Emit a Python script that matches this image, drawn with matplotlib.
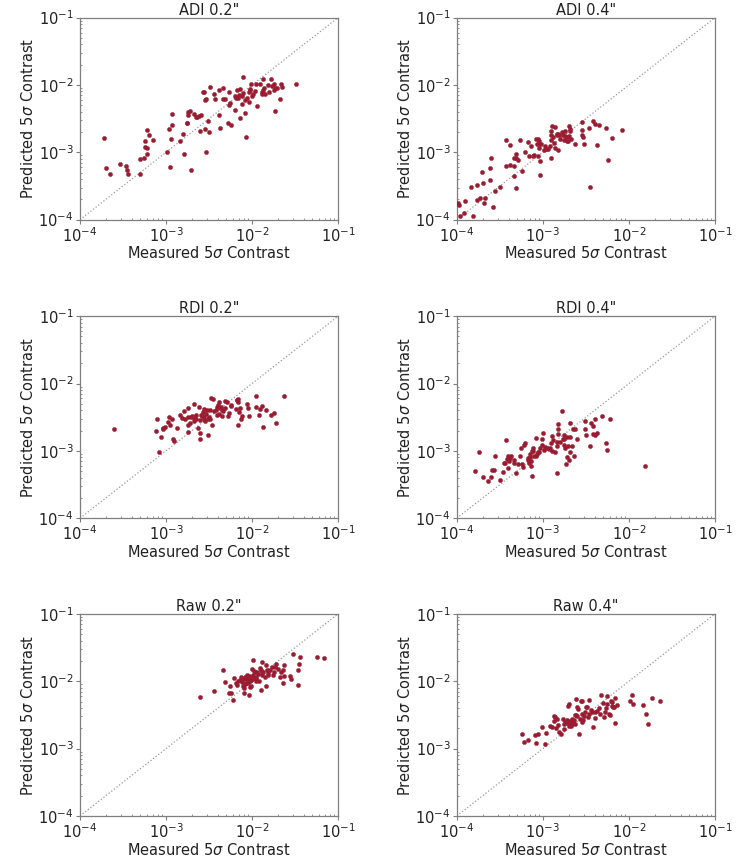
import matplotlib

matplotlib.use("Agg")
import matplotlib.pyplot as plt
import numpy as np

# log10 of measured / predicted 5-sigma contrast
adi02_meas = [-3.72, -3.70, -3.65, -3.53, -3.46, -3.45, -3.44, -3.30, -3.30, -3.26, -3.24, -3.22, -3.24, -3.22,
              -3.22, -3.20, -3.15, -2.99, -2.97, -2.95, -2.94, -2.93, -2.93, -2.84, -2.80, -2.79, -2.76, -2.76,
              -2.75, -2.74, -2.72, -2.71, -2.68, -2.65, -2.64, -2.62, -2.60, -2.59, -2.57, -2.56, -2.55, -2.55,
              -2.54, -2.54, -2.51, -2.50, -2.49, -2.44, -2.43, -2.39, -2.38, -2.37, -2.34, -2.34, -2.32, -2.28,
              -2.27, -2.27, -2.26, -2.24, -2.20, -2.20, -2.19, -2.17, -2.16, -2.15, -2.14, -2.14, -2.12, -2.12,
              -2.11, -2.10, -2.08, -2.08, -2.07, -2.06, -2.04, -2.04, -2.03, -2.02, -2.01, -2.00, -1.99, -1.97,
              -1.96, -1.94, -1.91, -1.89, -1.88, -1.87, -1.87, -1.86, -1.85, -1.81, -1.80, -1.78, -1.77, -1.75,
              -1.74, -1.73, -1.73, -1.71, -1.68, -1.66, -1.65, -1.49]
adi02_pred = [-2.79, -3.24, -3.32, -3.18, -3.20, -3.26, -3.32, -3.32, -3.10, -3.09, -2.92, -2.67, -2.83, -2.93,
              -3.03, -2.75, -2.82, -2.99, -2.66, -3.22, -2.80, -2.60, -2.43, -2.83, -2.73, -3.02, -2.57, -2.56,
              -2.40, -2.44, -2.38, -3.26, -2.43, -2.48, -2.47, -2.46, -2.68, -2.44, -2.10, -2.11, -2.65, -2.22,
              -2.21, -2.99, -2.54, -2.70, -2.03, -2.14, -2.21, -2.07, -2.45, -2.64, -2.05, -2.21, -2.21, -2.56,
              -2.30, -2.10, -2.27, -2.59, -2.37, -2.17, -2.19, -2.08, -2.19, -2.15, -2.06, -2.49, -2.28, -2.16,
              -2.12, -1.88, -2.22, -2.41, -2.78, -2.19, -2.25, -2.11, -2.07, -2.06, -1.98, -2.17, -2.14, -2.09,
              -1.99, -2.31, -1.98, -2.14, -2.11, -2.08, -1.91, -2.04, -2.13, -2.00, -2.10, -1.91, -2.02, -1.98,
              -2.08, -2.39, -2.05, -2.05, -2.21, -1.98, -2.03, -1.98]

adi04_meas = [-3.99, -3.98, -3.96, -3.92, -3.90, -3.81, -3.84, -3.76, -3.76, -3.73, -3.71, -3.70, -3.68, -3.67,
              -3.62, -3.62, -3.60, -3.58, -3.56, -3.50, -3.43, -3.43, -3.38, -3.38, -3.34, -3.34, -3.33, -3.31,
              -3.31, -3.31, -3.29, -3.26, -3.24, -3.21, -3.17, -3.16, -3.14, -3.12, -3.10, -3.08, -3.07, -3.06,
              -3.06, -3.05, -3.05, -3.04, -3.03, -3.03, -3.02, -2.99, -2.97, -2.96, -2.94, -2.92, -2.91, -2.91,
              -2.90, -2.90, -2.89, -2.88, -2.87, -2.86, -2.86, -2.84, -2.84, -2.82, -2.82, -2.81, -2.80, -2.78,
              -2.77, -2.76, -2.74, -2.74, -2.72, -2.72, -2.71, -2.70, -2.70, -2.69, -2.68, -2.67, -2.63, -2.55,
              -2.55, -2.55, -2.53, -2.52, -2.45, -2.46, -2.42, -2.39, -2.37, -2.35, -2.27, -2.24, -2.20, -2.08]
adi04_pred = [-3.75, -3.78, -3.95, -3.90, -3.72, -3.94, -3.52, -3.48, -3.71, -3.68, -3.29, -3.46, -3.76, -3.68,
              -3.24, -3.41, -3.08, -3.81, -3.58, -3.51, -2.82, -3.21, -2.89, -3.19, -3.08, -3.35, -3.21, -3.03,
              -3.09, -3.53, -3.11, -2.82, -3.28, -2.99, -2.85, -3.06, -2.91, -3.06, -3.04, -2.80, -2.87, -3.06,
              -2.80, -2.94, -2.83, -2.87, -3.13, -3.33, -2.88, -2.97, -2.91, -2.95, -2.95, -2.91, -3.08, -2.69,
              -2.82, -2.75, -2.61, -2.78, -2.86, -2.94, -2.62, -2.74, -2.73, -2.73, -2.96, -2.74, -2.80, -2.70,
              -2.75, -2.82, -2.76, -2.69, -2.83, -2.78, -2.83, -2.61, -2.76, -2.69, -2.66, -2.80, -2.88, -2.55,
              -2.67, -2.74, -2.77, -2.88, -3.52, -2.64, -2.54, -2.58, -2.89, -2.59, -2.64, -3.12, -2.79, -2.67]

rdi02_meas = [-3.61, -3.11, -3.12, -3.08, -3.06, -3.04, -3.03, -3.01, -2.98, -2.96, -2.95, -2.93, -2.92, -2.91,
              -2.87, -2.84, -2.82, -2.79, -2.78, -2.75, -2.75, -2.74, -2.74, -2.72, -2.71, -2.70, -2.68, -2.68,
              -2.67, -2.67, -2.65, -2.65, -2.63, -2.62, -2.61, -2.61, -2.60, -2.59, -2.58, -2.57, -2.56, -2.56,
              -2.56, -2.55, -2.54, -2.52, -2.51, -2.51, -2.50, -2.49, -2.49, -2.48, -2.47, -2.46, -2.44, -2.42,
              -2.41, -2.41, -2.40, -2.39, -2.38, -2.37, -2.36, -2.35, -2.35, -2.34, -2.32, -2.31, -2.29, -2.28,
              -2.27, -2.25, -2.24, -2.19, -2.18, -2.18, -2.16, -2.16, -2.16, -2.15, -2.14, -2.13, -2.12, -2.06,
              -2.05, -2.04, -1.96, -1.95, -1.92, -1.91, -1.89, -1.87, -1.84, -1.78, -1.75, -1.72, -1.63]
rdi02_pred = [-2.67, -2.52, -2.70, -3.01, -2.79, -2.67, -2.66, -2.65, -2.57, -2.49, -2.61, -2.52, -2.82, -2.85,
              -2.66, -2.46, -2.51, -2.41, -2.53, -2.36, -2.72, -2.49, -2.62, -2.59, -2.49, -2.48, -2.55, -2.30,
              -2.51, -2.49, -2.47, -2.53, -2.66, -2.35, -2.74, -2.82, -2.54, -2.46, -2.48, -2.42, -2.38, -2.50,
              -2.53, -2.56, -2.45, -2.40, -2.53, -2.76, -2.50, -2.40, -2.52, -2.22, -2.62, -2.23, -2.41, -2.39,
              -2.47, -2.35, -2.32, -2.45, -2.28, -2.37, -2.35, -2.40, -2.48, -2.41, -2.26, -2.36, -2.27, -2.48,
              -2.44, -2.32, -2.34, -2.38, -2.25, -2.24, -2.23, -2.27, -2.62, -2.42, -2.37, -2.53, -2.48, -2.30,
              -2.37, -2.48, -2.19, -2.35, -2.46, -2.38, -2.33, -2.65, -2.39, -2.46, -2.44, -2.58, -2.19]

rdi04_meas = [-3.79, -3.74, -3.69, -3.64, -3.60, -3.59, -3.57, -3.56, -3.50, -3.46, -3.45, -3.44, -3.43, -3.42,
              -3.41, -3.40, -3.39, -3.38, -3.37, -3.34, -3.34, -3.31, -3.29, -3.26, -3.25, -3.24, -3.23, -3.22,
              -3.21, -3.17, -3.17, -3.16, -3.15, -3.15, -3.14, -3.14, -3.13, -3.13, -3.12, -3.12, -3.10, -3.08,
              -3.08, -3.07, -3.06, -3.04, -3.03, -3.01, -3.00, -3.01, -2.99, -2.97, -2.95, -2.93, -2.92, -2.91,
              -2.89, -2.89, -2.88, -2.86, -2.84, -2.84, -2.84, -2.83, -2.82, -2.82, -2.80, -2.78, -2.77, -2.76,
              -2.76, -2.75, -2.74, -2.73, -2.72, -2.72, -2.71, -2.70, -2.69, -2.68, -2.68, -2.66, -2.65, -2.64,
              -2.63, -2.60, -2.51, -2.51, -2.50, -2.45, -2.44, -2.42, -2.42, -2.40, -2.39, -2.37, -2.31, -2.27,
              -2.26, -2.22, -1.81]
rdi04_pred = [-3.30, -3.02, -3.39, -3.44, -3.39, -3.28, -3.28, -3.08, -3.43, -3.32, -3.18, -3.18, -2.84, -3.12,
              -3.26, -3.07, -3.15, -3.11, -3.08, -3.18, -3.14, -3.33, -3.20, -3.08, -2.95, -3.20, -3.24, -2.91,
              -2.88, -3.13, -3.10, -3.18, -3.04, -3.09, -3.15, -3.22, -3.00, -3.37, -2.95, -3.00, -3.07, -3.08,
              -2.81, -3.04, -3.02, -3.01, -2.96, -2.92, -2.73, -2.83, -2.98, -2.94, -2.96, -2.97, -2.95, -2.88,
              -2.78, -3.00, -2.84, -3.01, -2.93, -3.33, -2.87, -2.60, -2.75, -2.68, -2.87, -2.41, -2.83, -2.77,
              -2.91, -2.83, -2.96, -3.20, -2.80, -3.09, -2.93, -3.13, -2.80, -2.59, -3.02, -2.93, -2.67, -3.08,
              -2.68, -2.83, -2.67, -2.56, -2.77, -2.93, -2.59, -2.63, -2.75, -2.52, -2.77, -2.74, -2.48, -2.88,
              -2.98, -2.53, -3.22]

raw02_meas = [-2.61, -2.44, -2.34, -2.31, -2.27, -2.26, -2.24, -2.22, -2.21, -2.19, -2.18, -2.16, -2.14, -2.13,
              -2.12, -2.10, -2.10, -2.09, -2.09, -2.08, -2.07, -2.07, -2.06, -2.05, -2.04, -2.04, -2.03, -2.02,
              -2.01, -2.01, -2.00, -1.99, -1.99, -1.98, -1.97, -1.96, -1.95, -1.94, -1.92, -1.91, -1.90, -1.90,
              -1.89, -1.89, -1.88, -1.87, -1.85, -1.84, -1.84, -1.83, -1.82, -1.81, -1.79, -1.77, -1.76, -1.75,
              -1.73, -1.72, -1.70, -1.67, -1.66, -1.64, -1.64, -1.63, -1.63, -1.56, -1.55, -1.53, -1.47, -1.47,
              -1.45, -1.44, -1.25, -1.17, -2.03, -2.05, -1.98, -2.00, -1.96, -2.08, -1.93, -2.02]
raw02_pred = [-2.23, -2.15, -1.83, -2.01, -2.18, -2.07, -2.18, -2.28, -1.95, -2.02, -2.05, -2.00, -1.98, -1.94,
              -2.01, -2.07, -1.96, -2.18, -2.10, -1.94, -1.97, -2.02, -1.90, -1.97, -2.21, -1.92, -1.93, -1.95,
              -1.98, -2.07, -1.82, -1.69, -1.91, -1.85, -1.86, -1.93, -1.96, -1.87, -1.99, -1.81, -2.13, -1.84,
              -1.71, -1.86, -1.91, -1.87, -1.94, -2.07, -1.76, -1.83, -1.88, -1.91, -1.84, -1.79, -1.90, -1.87,
              -1.79, -1.74, -1.82, -1.94, -1.87, -2.03, -1.83, -1.76, -1.92, -1.92, -1.96, -1.60, -1.84, -2.06,
              -1.74, -1.64, -1.64, -1.66, -1.99, -2.03, -1.95, -1.97, -2.00, -2.04, -1.89, -2.08]

raw04_meas = [-3.24, -3.22, -3.17, -3.09, -3.08, -3.06, -3.01, -2.97, -2.96, -2.92, -2.89, -2.87, -2.87, -2.86,
              -2.85, -2.84, -2.82, -2.81, -2.79, -2.77, -2.76, -2.75, -2.74, -2.72, -2.72, -2.71, -2.70, -2.70,
              -2.69, -2.68, -2.68, -2.67, -2.67, -2.66, -2.65, -2.65, -2.64, -2.63, -2.63, -2.62, -2.61, -2.60,
              -2.60, -2.59, -2.58, -2.57, -2.56, -2.55, -2.55, -2.54, -2.53, -2.52, -2.51, -2.50, -2.49, -2.48,
              -2.46, -2.46, -2.44, -2.43, -2.42, -2.40, -2.39, -2.37, -2.35, -2.34, -2.32, -2.30, -2.29, -2.28,
              -2.27, -2.25, -2.25, -2.23, -2.22, -2.21, -2.20, -2.20, -2.18, -2.17, -2.16, -2.16, -2.14, -1.99,
              -1.97, -1.95, -1.84, -1.80, -1.78, -1.73, -1.64]
raw04_pred = [-2.79, -2.90, -2.87, -2.80, -2.91, -2.78, -2.68, -2.93, -2.77, -2.66, -2.68, -2.52, -2.59, -2.53,
              -2.70, -2.56, -2.65, -2.75, -2.79, -2.56, -2.71, -2.64, -2.60, -2.62, -2.58, -2.37, -2.34, -2.67,
              -2.62, -2.64, -2.59, -2.67, -2.65, -2.56, -2.62, -2.60, -2.58, -2.50, -2.63, -2.26, -2.50, -2.38,
              -2.52, -2.41, -2.79, -2.56, -2.30, -2.48, -2.30, -2.60, -2.57, -2.52, -2.46, -2.38, -2.38, -2.53,
              -2.28, -2.48, -2.42, -2.46, -2.68, -2.54, -2.46, -2.44, -2.40, -2.49, -2.20, -2.33, -2.53, -2.45,
              -2.40, -2.34, -2.22, -2.49, -2.50, -2.29, -2.37, -2.31, -2.38, -2.38, -2.25, -2.62, -2.36, -2.30,
              -2.21, -2.34, -2.36, -2.49, -2.64, -2.25, -2.30]

titles = ['ADI 0.2"', 'ADI 0.4"', 'RDI 0.2"', 'RDI 0.4"', 'Raw 0.2"', 'Raw 0.4"']
measured = [adi02_meas, adi04_meas, rdi02_meas, rdi04_meas, raw02_meas, raw04_meas]
predicted = [adi02_pred, adi04_pred, rdi02_pred, rdi04_pred, raw02_pred, raw04_pred]

DOT = "#9b1b30"
GREY = "#7f7f7f"

fig = plt.figure(figsize=(7.44, 8.58), dpi=100)
col_x = [0.1075, 0.614]
row_y = [0.744, 0.3960, 0.0490]
w, h = 0.347, 0.2355

for i, title in enumerate(titles):
    ax = fig.add_axes([col_x[i % 2], row_y[i // 2], w, h])
    ax.set_xscale("log")
    ax.set_yscale("log")
    ax.plot([1e-4, 1e-1], [1e-4, 1e-1], linestyle=":", color="#999999", lw=0.9, zorder=1)
    ax.scatter(10 ** np.array(measured[i]), 10 ** np.array(predicted[i]), s=9, color=DOT,
               edgecolors=DOT, linewidths=0.3, zorder=3)
    ax.set_xlim(1e-4, 1e-1)
    ax.set_ylim(1e-4, 1e-1)
    ax.set_xticks([1e-4, 1e-3, 1e-2, 1e-1])
    ax.set_yticks([1e-4, 1e-3, 1e-2, 1e-1])
    ax.tick_params(which="major", length=3, width=0.8, color=GREY, labelsize=10.5, labelcolor="#222222", pad=1.5)
    ax.tick_params(which="minor", direction="in", length=1.5, width=0.6, color=GREY)
    for sp in ax.spines.values():
        sp.set_color(GREY)
        sp.set_linewidth(0.9)
    ax.set_title(title, fontsize=10.5, pad=0.5, color="#222222")
    ax.set_xlabel(r"Measured 5$\sigma$ Contrast", fontsize=10.5, labelpad=0.5, color="#222222")
    ax.set_ylabel(r"Predicted 5$\sigma$ Contrast", fontsize=10.5, labelpad=2, color="#222222")

fig.savefig("out.png", dpi=100, facecolor="white")
